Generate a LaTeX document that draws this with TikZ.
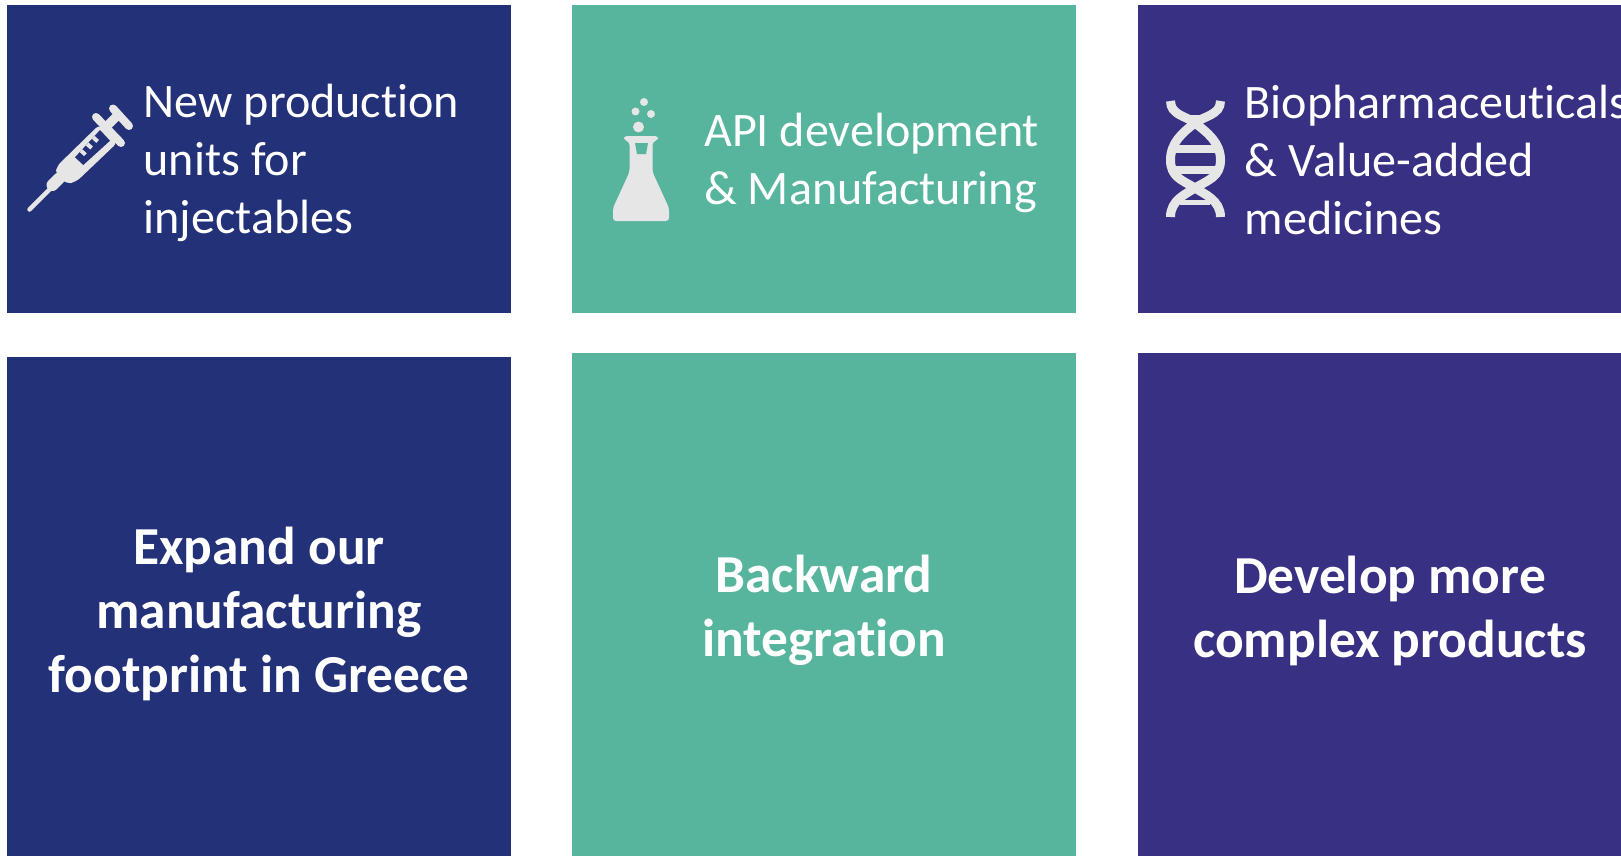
\documentclass[tikz,border=0pt]{standalone}
\usepackage{fontspec}
\setmainfont[Ligatures=NoCommon]{Carlito}
\definecolor{navy}{RGB}{34,49,120}
\definecolor{teal1}{RGB}{87,180,157}
\definecolor{purp}{RGB}{56,48,130}
\definecolor{ico}{RGB}{230,230,230}
\tikzset{x=1pt,y=-1pt,
 small/.style={text=white,anchor=west,align=left,inner sep=0,font=\fontsize{48.1}{58}\selectfont},
 big/.style={text=white,anchor=center,align=center,inner sep=0,font=\fontsize{53.4}{64}\selectfont\bfseries},
 iconline/.style={draw=ico,line cap=round,line join=round}}
\begin{document}
\begin{tikzpicture}
\useasboundingbox (0,0) rectangle (1621,856);
\fill[white] (0,0) rectangle (1621,856);
% panels
\fill[navy] (7,5) rectangle (511,313);
\fill[teal1] (572,5) rectangle (1076,313);
\fill[purp] (1138,5) rectangle (1621,313);
\fill[navy] (7,357) rectangle (511,856);
\fill[teal1] (572,353) rectangle (1076,856);
\fill[purp] (1138,353) rectangle (1621,856);
% text
\node[small] (t1) at (143.5,162.5) {New production\\units for\\injectables};
\node[small] (t2) at (704,163) {API development\\\& Manufacturing};
\node[small] (t3) at (1244.5,159.5) {Biopharmaceuticals\\\& Value-added\\medicines};
\node[big] (b1) at (259,614) {Expand our\\manufacturing\\footprint in Greece};
\node[big] (b2) at (824,610.5) {Backward\\integration};
\node[big] (b3) at (1390,610.5) {Develop more\\complex products};
% syringe
\draw[iconline,line width=4.5] (29.5,209.5) -- (52,187);
\draw[iconline,line width=12] (52.5,185) -- (59,178.5);
\fill[ico,rounded corners=6] (56,174) -- (56,167) -- (100,124) -- (118,142) -- (76,182) -- (66,184) -- cycle;
\draw[iconline,line width=8] (96,117) -- (121,143);
\draw[iconline,line width=8] (113,108.5) -- (129,126);
\draw[iconline,line width=9] (108,125) -- (118,115);
\fill[navy] (75,157.3) -- (100,130) -- (110,140.7) -- (83.3,165) -- cycle;
\fill[ico] (79.7,152.1) -- (82.4,149.3) -- (86.8,153.3) -- (84.1,156.1) -- cycle;
\fill[ico] (85.8,145.5) -- (88.5,142.5) -- (92.9,146.5) -- (90.2,149.5) -- cycle;
\fill[ico] (91.9,138.9) -- (94.6,135.9) -- (99,139.9) -- (96.3,142.9) -- cycle;
% flask
\fill[ico] (644,102) circle (4);
\fill[ico] (635.5,111.5) circle (4);
\fill[ico] (651,114) circle (4);
\fill[ico] (638.5,127) circle (5.5);
\fill[ico,rounded corners=3] (624,136) -- (658,136) -- (658,140) -- (652.5,142) -- (652.5,172) -- (669,208) -- (669,221) -- (613,221) -- (613,208) -- (629.5,172) -- (629.5,142) -- (624,140) -- cycle;
\fill[teal1] (635,143) -- (648,143) -- (646,154) -- (637,154) -- cycle;
% dna
\draw[ico,line width=9] (1170.5,101) .. controls (1170.5,115) and (1186,116) .. (1195,123) .. controls (1208,133) and (1220.5,143) .. (1220.5,160) .. controls (1220.5,177) and (1208,180) .. (1195,188) .. controls (1186,194) and (1170.5,200) .. (1170.5,217);
\draw[ico,line width=9] (1220.5,101) .. controls (1220.5,115) and (1204,116) .. (1195,123) .. controls (1182,133) and (1170.5,143) .. (1170.5,160) .. controls (1170.5,177) and (1182,180) .. (1195,188) .. controls (1204,194) and (1220.5,200) .. (1220.5,217);
\fill[ico] (1180,115) rectangle (1210,119);
\fill[ico] (1170,145) rectangle (1220,153);
\fill[ico] (1170,166) rectangle (1220,174);
\fill[ico] (1180,200) rectangle (1210,205);
\end{tikzpicture}
\end{document}
